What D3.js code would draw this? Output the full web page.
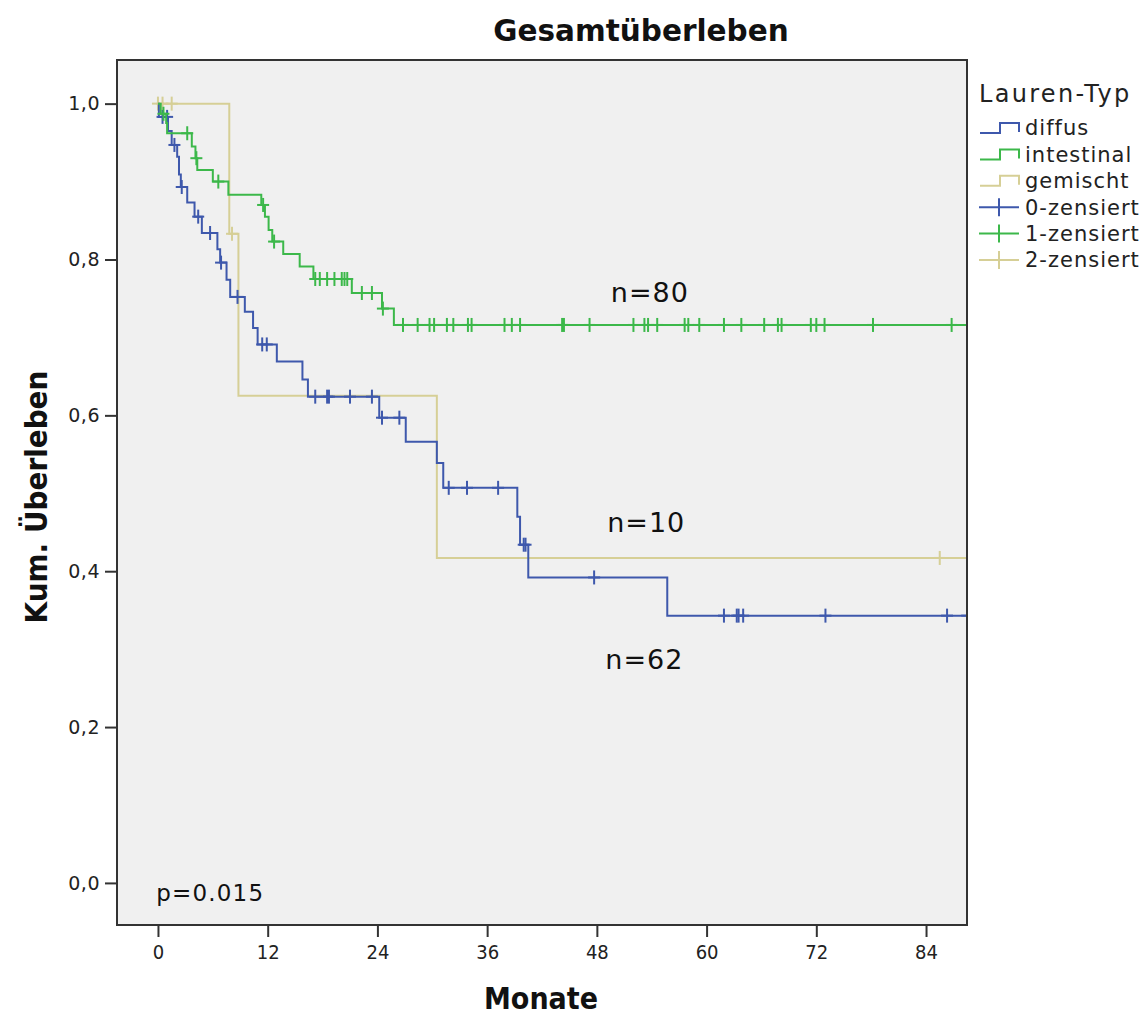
<!DOCTYPE html>
<html>
  <head>
    <meta charset="utf-8">
    <title>Gesamtüberleben</title>
  </head>

  <body>
  <style media="screen">
    body{ margin:0; background:#fff; }
    svg{ display:block; font-family:"DejaVu Sans", sans-serif; }
    .axis path{ display:none; }
    .axis line{ stroke:#333; stroke-width:2; }
  </style>

<svg id="chart" width="1146" height="1017"></svg>

    <script src="https://d3js.org/d3.v7.min.js"></script>
    <script type="text/javascript">
    // diffus (n=62)
    var diffusTimes  = [0.1, 1.1, 1.5, 2.1, 2.3, 2.5, 3.2, 4.0, 4.8, 6.5, 6.8, 7.5, 7.9, 9.5, 10.4, 10.9, 13.0, 15.8, 16.4, 24.2, 27.1, 30.5, 31.2, 39.3, 39.6, 40.5, 55.7];
    var diffusSurv   = [0.983, 0.965, 0.947, 0.932, 0.909, 0.893, 0.873, 0.855, 0.834, 0.813, 0.796, 0.774, 0.752, 0.733, 0.712, 0.691, 0.669, 0.646, 0.624, 0.597, 0.566, 0.539, 0.507, 0.470, 0.434, 0.392, 0.343];
    var diffusCensor = [0.5, 1.0, 1.8, 2.6, 4.4, 5.7, 6.9, 8.7, 11.4, 11.9, 17.2, 18.5, 18.7, 21.0, 23.4, 24.5, 26.4, 31.8, 33.8, 37.2, 40.0, 40.2, 47.7, 61.9, 63.3, 63.5, 64.0, 73.0, 86.3, 88.5];

    // intestinal (n=80)
    var intestTimes  = [0.3, 0.9, 1.0, 3.7, 4.1, 4.3, 6.0, 7.7, 11.3, 11.7, 12.1, 12.5, 13.7, 15.5, 17.0, 21.2, 24.5, 25.8];
    var intestSurv   = [0.987, 0.975, 0.962, 0.945, 0.930, 0.915, 0.900, 0.883, 0.870, 0.855, 0.838, 0.823, 0.807, 0.791, 0.775, 0.757, 0.737, 0.716];
    var intestCensor = [0.6, 3.2, 4.2, 6.6, 11.5, 12.7, 17.2, 17.7, 18.5, 19.3, 20.1, 20.4, 20.7, 22.3, 23.4, 24.6, 26.8, 28.4, 29.7, 30.2, 31.6, 32.3, 33.9, 34.3, 37.9, 38.7, 39.6, 44.2, 44.4, 47.2, 52.0, 53.2, 53.6, 54.6, 57.6, 58.0, 59.2, 61.9, 63.8, 66.3, 67.8, 68.2, 71.4, 72.0, 72.9, 78.2, 86.8, 89.5];

    // gemischt (n=10)
    var gemTimes  = [7.8, 8.8, 30.5];
    var gemSurv   = [0.833, 0.625, 0.417];
    var gemCensor = [0.0, 0.5, 1.5, 8.1, 85.5, 89.5];

    var groupNames  = ['diffus', 'intestinal', 'gemischt'];
    var censorNames = ['0-zensiert', '1-zensiert', '2-zensiert'];
    var colors      = ['#3e58ac', '#3cb84a', '#d6cf96'];
    var xTicks = [0, 12, 24, 36, 48, 60, 72, 84];
    var yTicks = [0, 0.2, 0.4, 0.6, 0.8, 1.0];

    var groups = [
      {times:diffusTimes, surv:diffusSurv, censor:diffusCensor, color:colors[0]},
      {times:intestTimes, surv:intestSurv, censor:intestCensor, color:colors[1]},
      {times:gemTimes, surv:gemSurv, censor:gemCensor, color:colors[2]}
    ];

    var svg = d3.select('#chart');
    var L = 117, R = 967, T = 60, B = 925;

    var x = d3.scaleLinear().domain([-4.48, 88.48]).range([L, R]);
    var y = d3.scaleLinear().domain([-0.054, 1.056]).range([B, T]);

    svg.append('defs').append('clipPath').attr('id', 'clip')
      .append('rect').attr('x', L).attr('y', T).attr('width', R - L).attr('height', B - T);

    svg.append('rect')
      .attr('x', L).attr('y', T).attr('width', R - L).attr('height', B - T)
      .style('fill', '#f0f0f0');

    // survival at time t (step function)
    function survAt(g, t){
      var i = d3.bisectRight(g.times, t);
      return i === 0 ? 1 : g.surv[i - 1];
    }

    var line = d3.line().curve(d3.curveStepAfter).x(d=>x(d[0])).y(d=>y(d[1]));
    var plot = svg.append('g').attr('clip-path', 'url(#clip)');

    // draw gemischt first, then diffus, then intestinal
    [2, 0, 1].forEach(function(k){
      var g = groups[k];
      var pts = [[0, 1]];
      g.times.forEach((t, i) => pts.push([t, g.surv[i]]));
      var last = Math.max(d3.max(g.censor), d3.max(g.times));
      pts.push([last, g.surv[g.surv.length - 1]]);

      plot.append('path')
        .attr('d', line(pts))
        .style('fill', 'none')
        .style('stroke', g.color)
        .style('stroke-width', 2);

      var marks = plot.selectAll('.c' + k).data(g.censor).enter().append('g')
        .attr('transform', d => 'translate(' + x(d) + ',' + y(survAt(g, d)) + ')');
      marks.append('line').attr('x1', 0).attr('x2', 0).attr('y1', -7).attr('y2', 7)
        .style('stroke', g.color).style('stroke-width', 2);
      marks.append('line').attr('x1', -6).attr('x2', 6).attr('y1', 0).attr('y2', 0)
        .style('stroke', g.color).style('stroke-width', 2);
    });

    // frame
    svg.append('rect')
      .attr('x', L).attr('y', T).attr('width', R - L).attr('height', B - T)
      .style('fill', 'none').style('stroke', '#333').style('stroke-width', 2);

    // axes
    var comma = d3.formatLocale({decimal:',', thousands:'.', grouping:[3], currency:['', '']}).format('.1f');

    var yAxis = svg.append('g').attr('class', 'axis').attr('transform', 'translate(' + L + ',0)')
      .call(d3.axisLeft(y).tickValues(yTicks).tickSize(12).tickPadding(5).tickFormat(comma));
    yAxis.selectAll('text').style('font-size', '19px').style('fill', '#222')
      .style('letter-spacing', '0.5px')
      .style('font-family', '"DejaVu Sans", sans-serif');

    var xAxis = svg.append('g').attr('class', 'axis').attr('transform', 'translate(0,' + B + ')')
      .call(d3.axisBottom(x).tickValues(xTicks).tickSize(12).tickPadding(8));
    xAxis.selectAll('text').style('font-size', '20px').style('fill', '#222')
      .style('font-family', '"DejaVu Sans Condensed", sans-serif');

    // titles
    svg.append('text').attr('x', 641).attr('y', 41).attr('text-anchor', 'middle')
      .style('font-size', '29.5px').style('font-weight', 'bold').style('fill', '#111')
      .text('Gesamtüberleben');

    svg.append('text').attr('x', 541).attr('y', 1009).attr('text-anchor', 'middle')
      .style('font-size', '30px').style('font-weight', 'bold').style('fill', '#111')
      .style('font-family', '"DejaVu Sans Condensed", sans-serif')
      .text('Monate');

    svg.append('text').attr('transform', 'translate(47,497) rotate(-90)').attr('text-anchor', 'middle')
      .style('font-size', '31px').style('font-weight', 'bold').style('fill', '#111')
      .style('font-family', '"DejaVu Sans Condensed", sans-serif')
      .text('Kum. Überleben');

    // annotations
    var notes = [
      {t:53.8, s:0.757, text:'n=80'},
      {t:53.4, s:0.463, text:'n=10'},
      {t:53.2, s:0.286, text:'n=62'}
    ];
    svg.selectAll('.note').data(notes).enter().append('text')
      .attr('x', d=>x(d.t)).attr('y', d=>y(d.s)).attr('dy', '0.35em')
      .attr('text-anchor', 'middle')
      .style('font-size', '27px').style('letter-spacing', '1px').style('fill', '#111')
      .text(d=>d.text);

    svg.append('text').attr('x', x(-0.2)).attr('y', y(-0.013)).attr('dy', '0.35em')
      .style('font-size', '23px').style('letter-spacing', '1.2px').style('fill', '#111')
      .text('p=0.015');

    // legend
    var lg = svg.append('g');
    lg.append('text').attr('x', 979).attr('y', 102)
      .style('font-size', '24px').style('letter-spacing', '2.3px').style('fill', '#222').text('Lauren-Typ');

    var rowY = i => 128 + i * 26.4;
    groupNames.forEach(function(name, i){
      var yy = rowY(i);
      lg.append('path')
        .attr('d', 'M980,' + (yy + 5) + 'H1000V' + (yy - 5) + 'H1019V' + (yy + 4))
        .style('fill', 'none').style('stroke', colors[i]).style('stroke-width', 2);
      lg.append('text').attr('x', 1025).attr('y', yy).attr('dy', '0.35em')
        .style('font-size', '21px').style('letter-spacing', '1px').style('fill', '#222').text(name);
    });
    censorNames.forEach(function(name, i){
      var yy = rowY(i + 3);
      lg.append('line').attr('x1', 979).attr('x2', 1019).attr('y1', yy).attr('y2', yy)
        .style('stroke', colors[i]).style('stroke-width', 2);
      lg.append('line').attr('x1', 999).attr('x2', 999).attr('y1', yy - 9).attr('y2', yy + 9)
        .style('stroke', colors[i]).style('stroke-width', 2);
      lg.append('text').attr('x', 1025).attr('y', yy).attr('dy', '0.35em')
        .style('font-size', '21px').style('letter-spacing', '1px').style('fill', '#222').text(name);
    });
    </script>

  </body>
</html>
